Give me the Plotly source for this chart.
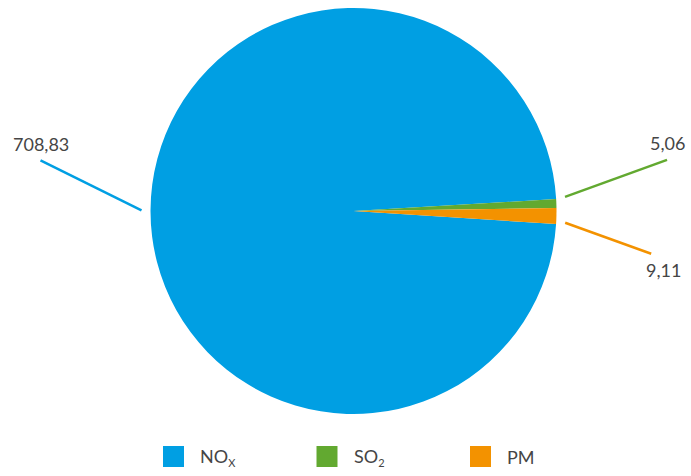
import math
import plotly.graph_objects as go

# ---- data ----
categories = ["NO<sub><span style='font-size:11px'>X</span></sub>",
              "SO<sub><span style='font-size:11px'>2</span></sub>", "PM"]
values = [708.83, 5.06, 9.11]
value_labels = ["708,83", "5,06", "9,11"]

# ---- style ----
colors = ["#009FE3", "#62A930", "#F39200"]
W, H = 691, 476
CX, CY, R = 353.5, 211.0, 203.0
ROTATION = 93.7
FONT = "Lato"
TEXT_COLOR = "#454545"
leader_vec = [(-101, -50), (102, -37), (86, 31)]
label_off = [(0, -16), (0, -17), (12, 16)]
MIN_SEP = 7.0

def px(x):
    return x / W

def py(y):
    return 1 - y / H

fig = go.Figure(go.Pie(
    labels=categories,
    values=values,
    marker=dict(colors=colors, line=dict(width=0)),
    sort=False,
    direction="clockwise",
    rotation=ROTATION,
    textinfo="none",
    hoverinfo="label+value",
    showlegend=False,
    domain=dict(x=[px(CX - R), px(CX + R)], y=[py(CY + R), py(CY - R)]),
))

# mid angles (clockwise degrees from 12 o'clock)
total = sum(values)
mids = []
a = ROTATION
for v in values:
    span = v / total * 360
    mids.append((a + span / 2) % 360)
    a += span
# spread the small adjacent slices' connector anchors apart
m1, m2 = mids[1], mids[2]
if m2 - m1 < MIN_SEP:
    c = (m1 + m2) / 2
    mids[1], mids[2] = c - MIN_SEP / 2, c + MIN_SEP / 2

shapes = []
annotations = []
for i, m in enumerate(mids):
    rad = math.radians(m)
    sx = CX + (R + 9) * math.sin(rad)
    sy = CY - (R + 9) * math.cos(rad)
    ex, ey = sx + leader_vec[i][0], sy + leader_vec[i][1]
    shapes.append(dict(type="line", xref="paper", yref="paper",
                       x0=px(sx), y0=py(sy), x1=px(ex), y1=py(ey),
                       line=dict(color=colors[i], width=2.5)))
    annotations.append(dict(xref="paper", yref="paper",
                            x=px(ex + label_off[i][0]), y=py(ey + label_off[i][1]),
                            text=value_labels[i], showarrow=False,
                            xanchor="center", yanchor="middle",
                            font=dict(family=FONT, size=18, color=TEXT_COLOR)))

# manual legend
LEG_X0, LEG_STEP, LEG_Y, SQ = 163, 153.5, 456.5, 21
for i, name in enumerate(categories):
    x0 = LEG_X0 + i * LEG_STEP
    shapes.append(dict(type="rect", xref="paper", yref="paper",
                       x0=px(x0), x1=px(x0 + SQ), y0=py(LEG_Y + SQ / 2), y1=py(LEG_Y - SQ / 2),
                       fillcolor=colors[i], line=dict(width=0)))
    annotations.append(dict(xref="paper", yref="paper",
                            x=px(x0 + 35), y=py(LEG_Y), text=name, showarrow=False,
                            xanchor="left", yanchor="middle",
                            font=dict(family=FONT, size=18, color=TEXT_COLOR)))

fig.update_layout(
    width=W, height=H,
    margin=dict(l=0, r=0, t=0, b=0),
    paper_bgcolor="white", plot_bgcolor="white",
    shapes=shapes, annotations=annotations,
    showlegend=False,
)

fig.write_html("out.html", config={"displayModeBar": False},
               post_script="document.body.style.margin='0';document.body.style.overflow='hidden';")
